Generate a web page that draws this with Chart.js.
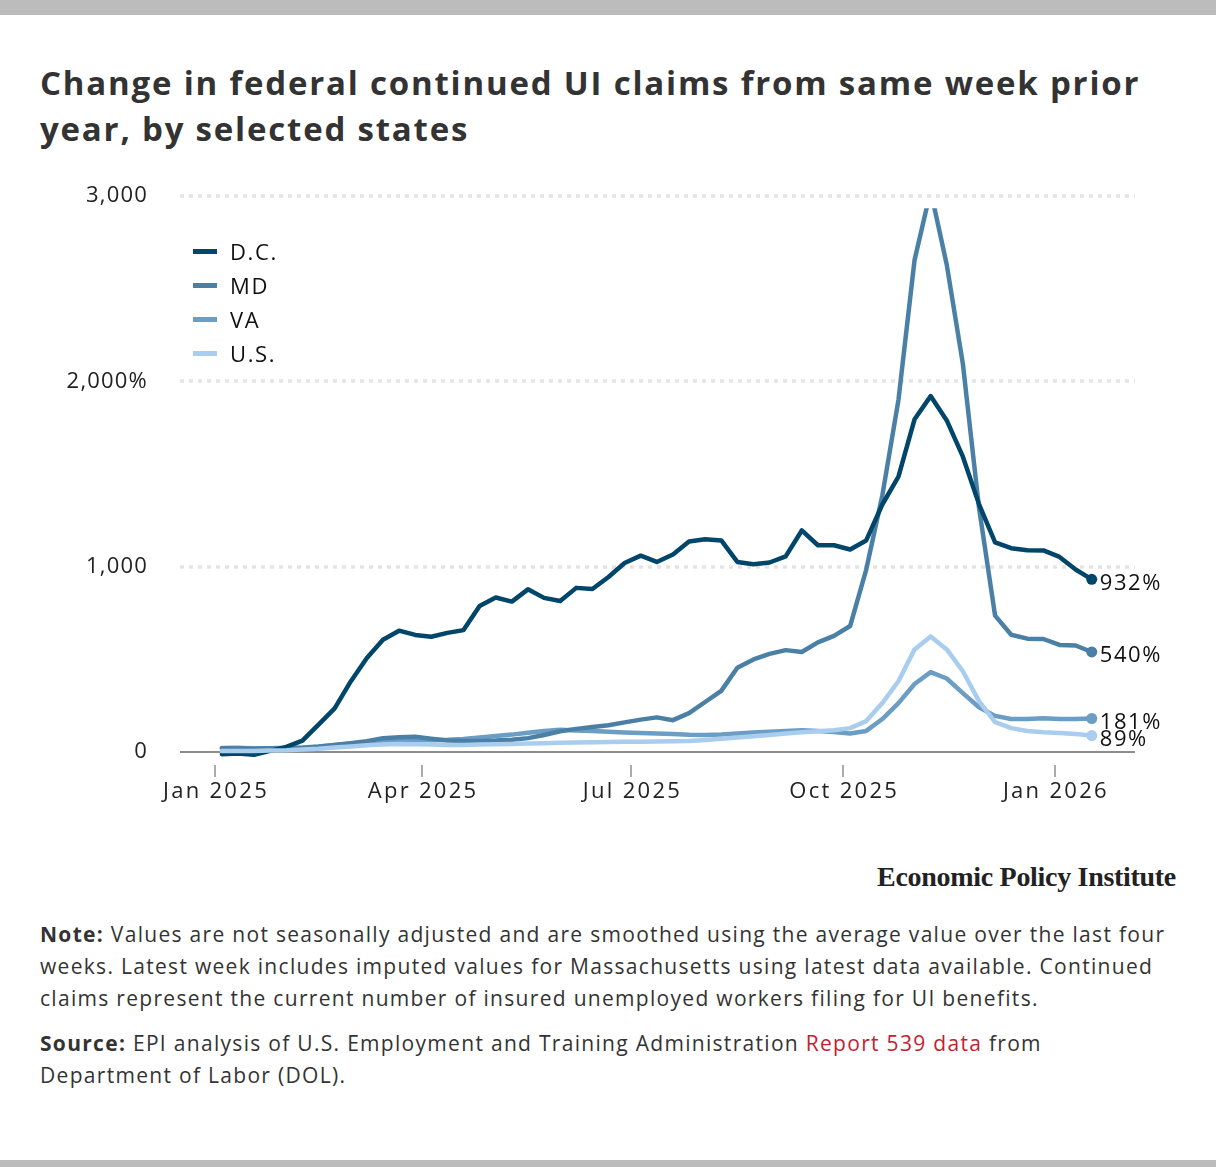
<!DOCTYPE html>
<html>
<head>
<meta charset="utf-8">
<script src="https://cdn.jsdelivr.net/npm/chart.js@4/dist/chart.umd.min.js"></script>
<style>
  html, body { margin: 0; padding: 0; }
  body {
    width: 1216px; height: 1167px; position: relative; overflow: hidden;
    background: #fff; font-family: "Open Sans", Lato, sans-serif; color: #333;
  }
  .bar { position: absolute; left: 0; width: 1216px; background: #bcbcbc; }
  .bar.top { top: 0; height: 15px; }
  .bar.bottom { top: 1160px; height: 7px; }
  h1 {
    position: absolute; left: 40px; top: 60px; margin: 0;
    font-size: 33px; line-height: 46px; font-weight: 700; color: #333; letter-spacing: 1.8px;
    white-space: nowrap;
  }
  #chart-box { position: absolute; left: 0; top: 151px; width: 1216px; height: 680px; }
  #legend { position: absolute; left: 193px; top: 234px; }
  .legend-item { display: flex; align-items: center; height: 34px; font-size: 22px; color: #111; letter-spacing: 1.6px; }
  .legend-item span.swatch { width: 24px; height: 5px; margin-right: 13px; }
  #brand {
    position: absolute; right: 40px; top: 861px;
    font-family: "Liberation Serif", serif; font-weight: 700; font-size: 28px; color: #222;
    letter-spacing: -0.3px;
  }
  .notes { position: absolute; left: 40px; width: 1145px; font-size: 21px; line-height: 32px; color: #333; letter-spacing: 1.3px; }
  #note { top: 918px; }
  #source { top: 1027px; }
  .link { color: #c41e30; }
</style>
</head>
<body>
<div class="bar top"></div>
<h1>Change in federal continued UI claims from same week prior<br>year, by selected states</h1>

<div id="chart-box"><canvas id="claims-chart" width="1216" height="680"></canvas></div>
<div id="legend"></div>

<div id="brand">Economic Policy Institute</div>
<div class="notes" id="note"><b>Note:</b> Values are not seasonally adjusted and are smoothed using the average value over the last four weeks. Latest week includes imputed values for Massachusetts using latest data available. Continued claims represent the current number of insured unemployed workers filing for UI benefits.</div>
<div class="notes" id="source"><b>Source:</b> EPI analysis of U.S. Employment and Training Administration <span class="link">Report 539 data</span> from<br>Department of Labor (DOL).</div>
<div class="bar bottom"></div>

<script>
// week-ending dates (Saturdays)
const weeks = [
    '2025-01-04', '2025-01-11', '2025-01-18', '2025-01-25',
    '2025-02-01', '2025-02-08', '2025-02-15', '2025-02-22',
    '2025-03-01', '2025-03-08', '2025-03-15', '2025-03-22', '2025-03-29',
    '2025-04-05', '2025-04-12', '2025-04-19', '2025-04-26',
    '2025-05-03', '2025-05-10', '2025-05-17', '2025-05-24', '2025-05-31',
    '2025-06-07', '2025-06-14', '2025-06-21', '2025-06-28',
    '2025-07-05', '2025-07-12', '2025-07-19', '2025-07-26',
    '2025-08-02', '2025-08-09', '2025-08-16', '2025-08-23', '2025-08-30',
    '2025-09-06', '2025-09-13', '2025-09-20', '2025-09-27',
    '2025-10-04', '2025-10-11', '2025-10-18', '2025-10-25',
    '2025-11-01', '2025-11-08', '2025-11-15', '2025-11-22', '2025-11-29',
    '2025-12-06', '2025-12-13', '2025-12-20', '2025-12-27',
    '2026-01-03', '2026-01-10', '2026-01-17'
];

// percent change from same week prior year
const dcValues = [
    -12, -8, -15, 6, 28, 62, 148, 236, 381, 508, 606, 655, 632, 622, 643, 658,
    788, 834, 812, 878, 832, 815, 886, 880, 945, 1020, 1060, 1026, 1066, 1136,
    1148, 1142, 1026, 1013, 1023, 1056, 1196, 1116, 1116, 1093, 1142, 1336,
    1486, 1796, 1921, 1790, 1594, 1338, 1132, 1100, 1089, 1088, 1053, 985, 932
];
const mdValues = [
    20, 22, 18, 20, 22, 22, 28, 38, 48, 58, 75, 80, 82, 72, 62, 60,
    60, 62, 66, 75, 92, 112, 125, 135, 145, 160, 175, 187, 172, 210,
    270, 330, 455, 500, 530, 550, 540, 592, 627, 680, 985, 1385,
    1900, 2655, 3030, 2630, 2095, 1320, 736, 633, 612, 610, 578, 575, 540
];
const vaValues = [
    22, 22, 20, 20, 22, 24, 30, 38, 46, 54, 62, 66, 68, 64, 66, 70,
    78, 86, 94, 104, 114, 120, 116, 113, 110, 106, 103, 100, 97, 93,
    92, 95, 100, 105, 110, 114, 117, 114, 108, 100, 114, 178,
    264, 367, 431, 397, 318, 242, 195, 178, 178, 182, 178, 178, 181
];
const usValues = [
    5, 6, 6, 8, 10, 14, 18, 24, 30, 36, 40, 43, 42, 40, 38, 38,
    40, 42, 44, 46, 48, 50, 52, 53, 54, 55, 56, 57, 58, 60,
    65, 72, 78, 85, 92, 100, 107, 112, 118, 129, 167, 264,
    382, 554, 624, 554, 436, 275, 161, 129, 114, 107, 103, 97, 89
];

const seriesNames = ['D.C.', 'MD', 'VA', 'U.S.'];
const seriesColors = ['#00466a', '#4b80a6', '#6c9dc4', '#a9cdee'];

const tickDates = ['2025-01-01', '2025-04-01', '2025-07-01', '2025-10-01', '2026-01-01'];
const tickLabels = ['Jan 2025', 'Apr 2025', 'Jul 2025', 'Oct 2025', 'Jan 2026'];
const yTicks = [0, 1000, 2000, 3000];
const yTickLabels = ['0', '1,000', '2,000%', '3,000'];

const DAY0 = Date.UTC(2025, 0, 1);
const toDay = s => (Date.parse(s) - DAY0) / 86400000;

const FONT = '"Open Sans", Lato, sans-serif';

const makeSeries = (values, i, order) => {
    const last = values.length - 1;
    return {
        label: seriesNames[i],
        data: values.map((v, k) => ({ x: toDay(weeks[k]), y: v })),
        borderColor: seriesColors[i],
        backgroundColor: seriesColors[i],
        borderWidth: 4.5,
        tension: 0,
        borderJoinStyle: 'round',
        borderCapStyle: 'round',
        pointRadius: ctx => (ctx.dataIndex === last ? 5.5 : 0),
        pointHoverRadius: 0,
        pointBorderWidth: 0,
        pointBackgroundColor: seriesColors[i],
        order,
        clip: { left: 10, top: -12, right: 60, bottom: 10 }
    };
};

// wider tracking for the y tick labels
const spacingPlugin = {
    id: 'spacing',
    beforeDraw(chart) { chart.ctx.letterSpacing = '1.2px'; }
};

// dotted grid + solid zero line
const gridPlugin = {
    id: 'gridLines',
    beforeDatasetsDraw(chart) {
        const { ctx, chartArea, scales } = chart;
        ctx.save();
        yTicks.forEach(v => {
            const y = Math.round(scales.y.getPixelForValue(v));
            ctx.beginPath();
            if (v === 0) {
                ctx.setLineDash([]);
                ctx.strokeStyle = '#8d8d8d';
                ctx.lineWidth = 2;
            } else {
                ctx.setLineDash([4, 5]);
                ctx.strokeStyle = '#e4e4e4';
                ctx.lineWidth = 3.5;
            }
            ctx.moveTo(chartArea.left, y);
            ctx.lineTo(chartArea.right, y);
            ctx.stroke();
        });
        ctx.restore();
    }
};

// month labels under the tick marks
const xLabelPlugin = {
    id: 'xLabels',
    afterDraw(chart) {
        const { ctx, chartArea, scales } = chart;
        ctx.save();
        ctx.font = '22px ' + FONT;
        ctx.letterSpacing = '2.3px';
        ctx.fillStyle = '#222';
        ctx.textAlign = 'center';
        ctx.textBaseline = 'middle';
        tickDates.forEach((d, i) => {
            const x = scales.x.getPixelForValue(toDay(d));
            ctx.fillText(tickLabels[i], x + 1, chartArea.bottom + 27);
        });
        ctx.restore();
    }
};

// value labels at the end of each line
const endLabelPlugin = {
    id: 'endLabels',
    afterDatasetsDraw(chart) {
        const { ctx } = chart;
        ctx.save();
        ctx.font = '22px ' + FONT;
        ctx.letterSpacing = '1.6px';
        ctx.fillStyle = '#111';
        ctx.textAlign = 'left';
        ctx.textBaseline = 'middle';
        chart.data.datasets.forEach((ds, i) => {
            const meta = chart.getDatasetMeta(i);
            const pt = meta.data[meta.data.length - 1];
            const v = ds.data[ds.data.length - 1].y;
            ctx.fillText(Math.round(v) + '%', pt.x + 8, pt.y + 4);
        });
        ctx.restore();
    }
};

const renderLegend = () => {
    const box = document.getElementById('legend');
    seriesNames.forEach((name, i) => {
        const item = document.createElement('div');
        item.className = 'legend-item';
        item.innerHTML = `<span class="swatch" style="background:${seriesColors[i]}"></span>${name}`;
        box.appendChild(item);
    });
};

const renderChart = () => {
    new Chart(document.getElementById('claims-chart'), {
        type: 'line',
        data: {
            datasets: [
                makeSeries(dcValues, 0, 2),
                makeSeries(mdValues, 1, 3),
                makeSeries(vaValues, 2, 4),
                makeSeries(usValues, 3, 1)
            ]
        },
        options: {
            responsive: false,
            animation: false,
            layout: { padding: { left: 0, right: 81, top: 26, bottom: 6 } },
            plugins: { legend: { display: false }, tooltip: { enabled: false } },
            scales: {
                x: {
                    type: 'linear',
                    min: -15.2,
                    max: 399.8,
                    afterBuildTicks: s => { s.ticks = tickDates.map(d => ({ value: toDay(d) })); },
                    afterFit: s => { s.height = 60; },
                    grid: { drawOnChartArea: false, drawTicks: true, tickLength: 12, color: '#ababab', lineWidth: 2 },
                    border: { display: false },
                    ticks: { display: false, autoSkip: false, maxRotation: 0 }
                },
                y: {
                    min: -70,
                    max: 3000,
                    afterBuildTicks: s => { s.ticks = yTicks.map(v => ({ value: v })); },
                    afterFit: s => { s.width = 180; },
                    grid: { display: false, drawTicks: false },
                    border: { display: false },
                    ticks: {
                        padding: 32, color: '#222', font: { family: FONT, size: 22 },
                        callback: (v, i) => yTickLabels[i]
                    }
                }
            }
        },
        plugins: [spacingPlugin, gridPlugin, xLabelPlugin, endLabelPlugin]
    });
};

renderLegend();
renderChart();
</script>
</body>
</html>
